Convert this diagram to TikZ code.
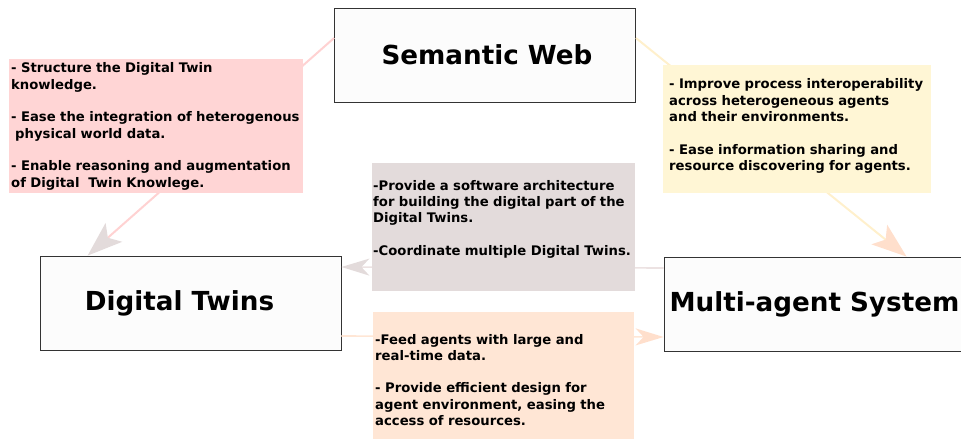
\documentclass[tikz,border=0pt]{standalone}
\usepackage{fontspec}
\setmainfont{DejaVu Sans}
\usepackage{tikz}
\usetikzlibrary{arrows.meta,positioning}

\definecolor{notepink}{HTML}{FFD5D5}
\definecolor{noteyellow}{HTML}{FFF6D5}
\definecolor{notegrey}{HTML}{E3DBDB}
\definecolor{notepeach}{HTML}{FFE6D5}
\definecolor{linepink}{HTML}{FFD2D2}
\definecolor{lineyellow}{HTML}{FFF0CC}
\definecolor{linegrey}{HTML}{ECE2E2}
\definecolor{headpeach}{HTML}{FFDFCC}

\tikzset{
  block/.style={draw=black!80, fill=black!1, line width=0.8pt,
    minimum width=301pt, minimum height=94pt,
    font=\fontsize{26.2}{30}\selectfont\bfseries},
  note/.style={anchor=north west, inner ysep=0pt, align=left,
    font=\fontsize{13.2}{16.3}\selectfont\bfseries},
  bigtip/.style={-{Stealth[length=35pt, width=25pt, inset=8pt, color=#1]}},
  smalltip/.style={-{Stealth[length=28pt, width=17pt, inset=8pt, color=#1]}}
}

\begin{document}
\begin{tikzpicture}[x=1pt, y=1pt, node distance=248pt]
  \useasboundingbox (0,0) rectangle (961,-439);

  \node [block] (sw) at (485,-55) {\kern4pt Semantic Web};
  \node [block, below of=sw, xshift=-294.5pt] (dt) {Digital Twins\kern22pt};
  \node [block, below of=sw, xshift=329.5pt, yshift=-1pt] (mas) {Multi-agent System};

  % links between the three fields
  \draw [linepink, line width=2pt, bigtip=notegrey] ([yshift=17pt]sw.west) -- ([xshift=48pt]dt.north west);
  \draw [lineyellow, line width=2pt, bigtip=headpeach] ([yshift=17pt]sw.east) -- ([xshift=243pt]mas.north west);
  \draw [linegrey, line width=1.6pt, smalltip=notegrey] ([yshift=36pt]mas.west) -- ([yshift=36pt]dt.east);
  \draw [notepeach, line width=1.6pt, smalltip=headpeach] ([yshift=-33pt]dt.east) -- ([yshift=-33pt]mas.west);

  % what each field brings
  \node [note, fill=notepink, inner xsep=2pt, text width=290pt, text height=13.7pt, text depth=120.3pt] (contribsw) at (9,-59)
    {- Structure the Digital Twin\\ knowledge.\\[16.3pt]
     - Ease the integration of heterogenous\\ \hspace*{4pt}physical world data.\\[16.3pt]
     - Enable reasoning and augmentation\\ of Digital\ \ Twin Knowlege.};
  \node [note, fill=noteyellow, inner xsep=6pt, text width=256pt, text height=23.7pt, text depth=104.3pt] (contribmas) at (663,-65)
    {- Improve process interoperability\\ across heterogeneous agents\\ and their environments.\\[16.3pt]
     - Ease information sharing and\\ resource discovering for agents.};
  \node [note, fill=notegrey, inner xsep=1pt, text width=261pt, text height=27pt, text depth=101pt] (contribtomas) at (372,-163)
    {-Provide a software architecture\\ for building the digital part of the\\ Digital Twins.\\[16.3pt]
     -Coordinate multiple Digital Twins.};
  \node [note, fill=notepeach, inner xsep=2pt, text width=257pt, text height=31.8pt, text depth=96.2pt] (contribdt) at (373,-312)
    {-Feed agents with large and\\ real-time data.\\[16.3pt]
     - Provide efficient design for\\ agent environment, easing the\\ access of resources.};
\end{tikzpicture}
\end{document}
